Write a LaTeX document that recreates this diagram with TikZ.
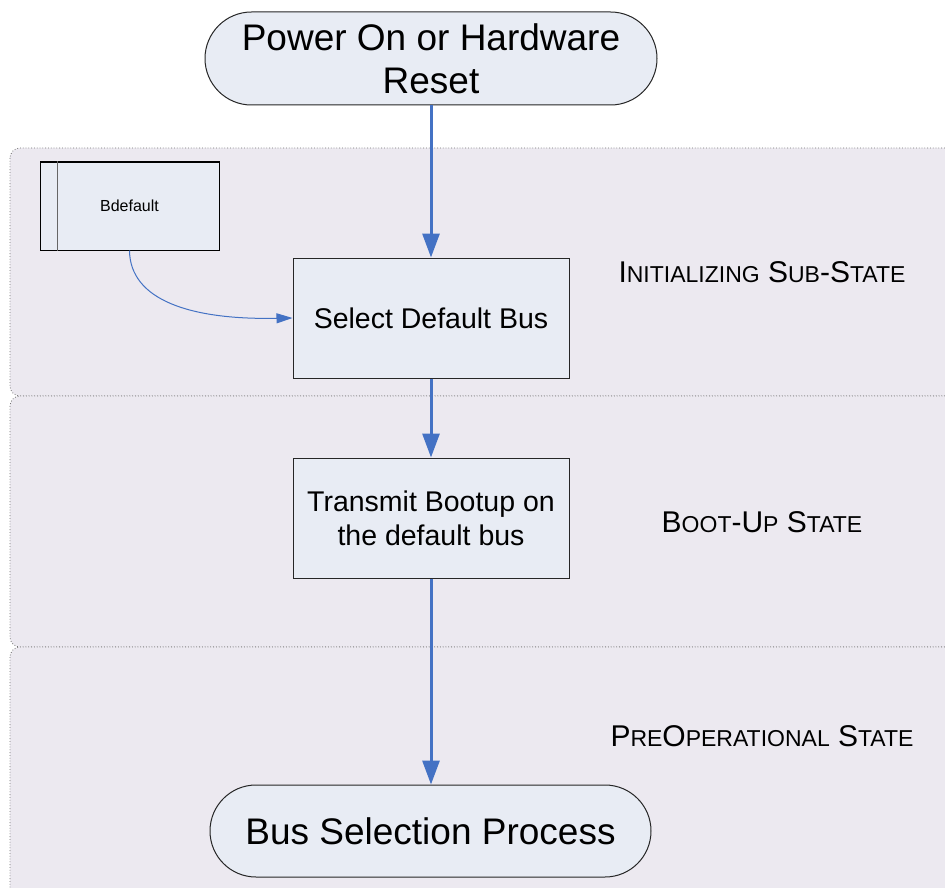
\documentclass[tikz,border=0pt]{standalone}
\usepackage{fontspec}
\setmainfont{Liberation Sans}
\usetikzlibrary{arrows.meta}
\newcommand{\smallc}[1]{{\fontsize{23}{28}\selectfont #1}}
\definecolor{bandfill}{HTML}{ECE9F0}
\definecolor{nodefill}{HTML}{E8ECF4}
\definecolor{flowblue}{HTML}{4472C4}
\tikzset{
  band/.style={draw=black!55, dotted, fill=bandfill, rounded corners=10pt, line width=0.8pt},
  procbox/.style={draw=black!85, fill=nodefill, line width=1pt, minimum width=276pt, minimum height=120pt, inner sep=0pt, align=center, font=\fontsize{28.5}{34}\selectfont},
  termbox/.style={draw=black!85, fill=nodefill, line width=1pt, inner sep=0pt, align=center, font=\fontsize{37}{43}\selectfont},
  databox/.style={draw=black, fill=nodefill, line width=1pt, minimum width=179pt, minimum height=88pt, inner sep=0pt, font=\fontsize{16}{19}\selectfont},
  flow/.style={draw=flowblue, line width=3pt, -{Triangle[length=24pt,width=17pt]}},
  thinflow/.style={draw=flowblue, line width=1pt, -{Triangle[length=16pt,width=10pt]}},
  statelabel/.style={inner sep=0pt, font=\fontsize{30}{36}\selectfont}
}
\begin{document}
\begin{tikzpicture}[x=1pt,y=-1pt]
\useasboundingbox (0,0) rectangle (945,888);
\clip (0,0) rectangle (945,888);
\fill[white] (0,0) rectangle (945,888);
% bands
\draw[band] (10,148) rectangle (990,396);
\draw[band] (10,396) rectangle (990,647);
\draw[band] (10,647) rectangle (990,930);
% nodes
\node[termbox, minimum width=452pt, minimum height=93pt, rounded corners=46.5pt] (power) at (431,58.5) {Power On or Hardware\\Reset};
\node[procbox] (sel) at (431,318) {Select Default Bus};
\node[procbox] (boot) at (431,518) {Transmit Bootup on\\the default bus};
\node[termbox, minimum width=441pt, minimum height=92pt, rounded corners=46pt] (bsp) at (430.5,831) {Bus Selection Process};
\node[databox] (bd) at (129.5,206) {Bdefault};
\draw[black!60, line width=1.2pt] ([xshift=18pt]bd.north west) -- ([xshift=18pt]bd.south west);
% state labels
\node[statelabel] (l1) at (762,272) {I\smallc{NITIALIZING} S\smallc{UB}-S\smallc{TATE}};
\node[statelabel] (l2) at (762,522) {B\smallc{OOT}-U\smallc{P} S\smallc{TATE}};
\node[statelabel] (l3) at (762,736) {P\smallc{RE}O\smallc{PERATIONAL} S\smallc{TATE}};
% connectors
\draw[flow] (power.south) -- (sel.north);
\draw[flow] (sel.south) -- (boot.north);
\draw[flow] (boot.south) -- (bsp.north -| boot.south);
\draw[thinflow] (bd.south) .. controls (130,300) and (190,320) .. (sel.west);
\end{tikzpicture}
\end{document}
